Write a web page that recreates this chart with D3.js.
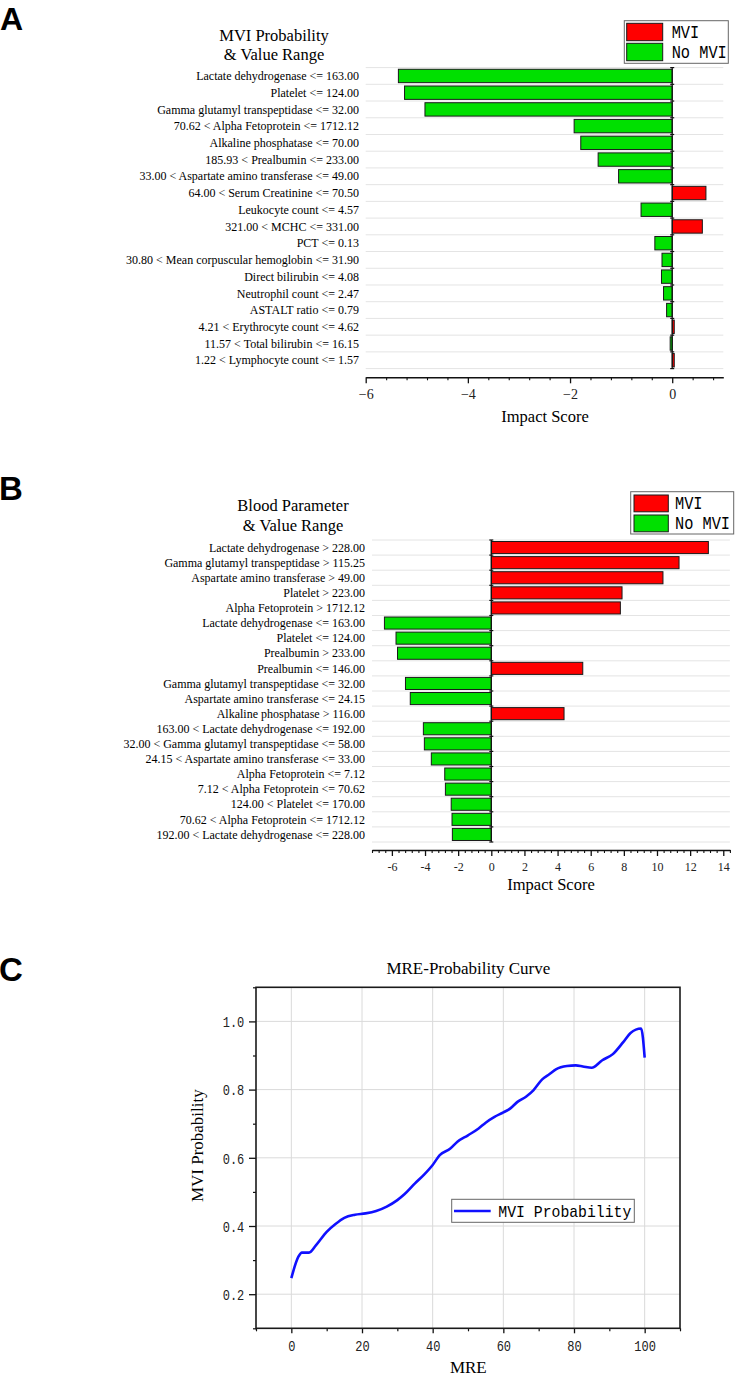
<!DOCTYPE html>
<html><head><meta charset="utf-8">
<script src="https://cdn.jsdelivr.net/npm/d3@7"></script>
<style>body{margin:0;background:#fff} svg{display:block}</style>
</head><body>
<script>
// ---------- DATA ----------
const labelsA = ["Lactate dehydrogenase <= 163.00","Platelet <= 124.00","Gamma glutamyl transpeptidase <= 32.00","70.62 < Alpha Fetoprotein <= 1712.12","Alkaline phosphatase <= 70.00","185.93 < Prealbumin <= 233.00","33.00 < Aspartate amino transferase <= 49.00","64.00 < Serum Creatinine <= 70.50","Leukocyte count <= 4.57","321.00 < MCHC <= 331.00","PCT <= 0.13","30.80 < Mean corpuscular hemoglobin <= 31.90","Direct bilirubin <= 4.08","Neutrophil count <= 2.47","ASTALT ratio <= 0.79","4.21 < Erythrocyte count <= 4.62","11.57 < Total bilirubin <= 16.15","1.22 < Lymphocyte count <= 1.57"];
const valuesA = [-5.36,-5.24,-4.84,-1.92,-1.79,-1.45,-1.05,0.66,-0.61,0.59,-0.34,-0.20,-0.21,-0.17,-0.11,0.04,-0.04,0.04];

const labelsB = ["Lactate dehydrogenase > 228.00","Gamma glutamyl transpeptidase > 115.25","Aspartate amino transferase > 49.00","Platelet > 223.00","Alpha Fetoprotein > 1712.12","Lactate dehydrogenase <= 163.00","Platelet <= 124.00","Prealbumin > 233.00","Prealbumin <= 146.00","Gamma glutamyl transpeptidase <= 32.00","Aspartate amino transferase <= 24.15","Alkaline phosphatase > 116.00","163.00 < Lactate dehydrogenase <= 192.00","32.00 < Gamma glutamyl transpeptidase <= 58.00","24.15 < Aspartate amino transferase <= 33.00","Alpha Fetoprotein <= 7.12","7.12 < Alpha Fetoprotein <= 70.62","124.00 < Platelet <= 170.00","70.62 < Alpha Fetoprotein <= 1712.12","192.00 < Lactate dehydrogenase <= 228.00"];
const valuesB = [13.1,11.33,10.36,7.89,7.79,-6.45,-5.75,-5.66,5.52,-5.18,-4.89,4.39,-4.10,-4.04,-3.62,-2.81,-2.77,-2.42,-2.37,-2.35];

const mre  = [0,2,3,5,7,10,12.5,15,18,21,24,27,30,32,35,37.5,40,42,45,47,50,53,55,57.5,60,62,64,66.5,68.5,71,73,75,78,80.5,82.5,85,88,91,94,96,99,100];
const prob = [0.247,0.31,0.322,0.322,0.344,0.383,0.406,0.424,0.433,0.437,0.444,0.457,0.476,0.493,0.525,0.55,0.579,0.608,0.627,0.647,0.666,0.686,0.703,0.72,0.733,0.745,0.764,0.78,0.798,0.83,0.845,0.86,0.869,0.871,0.868,0.864,0.886,0.904,0.94,0.966,0.979,0.894];

const legendBar = ["MVI","No MVI"];
const ticksA = [-6,-4,-2,0];
const ticksB = [-6,-4,-2,0,2,4,6,8,10,12,14];
const ticksCx = [0,20,40,60,80,100];
const ticksCy = [0.2,0.4,0.6,0.8,1.0];

// ---------- STYLE ----------
const SERIF = "'Liberation Serif','Times New Roman',serif";
const MONO = "'Liberation Mono','Courier New',monospace";
const SANS = "'Liberation Sans',Arial,sans-serif";
const RED = "#ff0000", GREEN = "#00e000", BLUE = "#1010ff";

const svg = d3.select("body").append("svg").attr("width",735).attr("height",1377);

function txt(g, x, y, s, o={}) {
  return g.append("text")
    .attr("transform", `translate(${x},${y}) scale(${o.sx||1},1)` + (o.rot?` rotate(${o.rot})`:""))
    .attr("font-family", o.family||SERIF).attr("font-size", o.size||12)
    .attr("font-weight", o.weight||"normal")
    .attr("text-anchor", o.anchor||"start").attr("fill","#000").text(s);
}

// panel letters
txt(svg, 0, 30, "A", {family:SANS, size:32, weight:"bold"});
txt(svg, -1, 500, "B", {family:SANS, size:33, weight:"bold"});
txt(svg, -1, 981, "C", {family:SANS, size:33, weight:"bold"});

function barPanel(cfg) {
  const g = svg.append("g");
  const x = d3.scaleLinear().domain(cfg.domain).range(cfg.xr);
  const y = d3.scaleBand().domain(cfg.labels).range(cfg.yr).paddingInner(0.2).paddingOuter(0.1);
  const step = y.step();
  const bounds = d3.range(cfg.labels.length+1).map(i => cfg.yr[0] + i*step);
  // grid
  g.selectAll(".grid").data(bounds).join("line")
    .attr("x1", cfg.xr[0]).attr("x2", cfg.xr[1]).attr("y1", d=>d).attr("y2", d=>d)
    .attr("stroke","#e4e4e4").attr("stroke-width",1);
  // bars
  g.selectAll(".bar").data(cfg.values).join("rect")
    .attr("x", d => x(Math.min(0,d))).attr("width", d => Math.abs(x(d)-x(0)))
    .attr("y", (d,i) => y(cfg.labels[i])).attr("height", y.bandwidth())
    .attr("fill", d => d>0?RED:GREEN).attr("stroke","#1a1a1a").attr("stroke-width",1);
  // zero line with band ticks
  g.append("line").attr("x1",x(0)).attr("x2",x(0)).attr("y1",cfg.yr[0]).attr("y2",cfg.yr[1])
    .attr("stroke","#111").attr("stroke-width",1.2);
  g.selectAll(".zt").data(bounds).join("line")
    .attr("x1",x(0)-2).attr("x2",x(0)+2).attr("y1",d=>d).attr("y2",d=>d)
    .attr("stroke","#111").attr("stroke-width",1.2);
  // labels
  cfg.labels.forEach(l => txt(g, cfg.labelX, y(l)+step*0.4+4.2, l, {size:12, anchor:"end"}));
  // axis
  const ax = g.append("g").attr("transform",`translate(0,${cfg.axisY})`)
    .call(d3.axisBottom(x).tickValues(cfg.ticks).tickSize(6).tickSizeOuter(0).tickPadding(cfg.pad).tickFormat(cfg.fmt));
  ax.select(".domain").attr("stroke","#111").attr("stroke-width",1.4);
  ax.selectAll(".tick line").attr("stroke","#111").attr("stroke-width",1.3);
  ax.selectAll("text").attr("font-family",SERIF).attr("font-size",cfg.tickSize).attr("fill","#222");
  const minors = d3.range(cfg.domain[0], cfg.domain[1]+1e-6, 0.4)
    .filter(v => !cfg.ticks.some(t => Math.abs(t-v)<1e-6));
  const mx = g.append("g").attr("transform",`translate(0,${cfg.axisY})`)
    .call(d3.axisBottom(x).tickValues(minors).tickSize(3).tickFormat(""));
  mx.select(".domain").remove();
  mx.selectAll(".tick line").attr("stroke","#111").attr("stroke-width",1.1);
  txt(g, cfg.xl[0], cfg.xl[1], "Impact Score", {size:16.5, anchor:"middle"});
  // title
  txt(g, cfg.title[0], cfg.title[2], cfg.titleText[0], {size:16.5, anchor:"middle"});
  txt(g, cfg.title[0], cfg.title[3], cfg.titleText[1], {size:16.5, anchor:"middle"});
  // legend
  const L = cfg.legend;
  g.append("rect").attr("x",L.x).attr("y",L.y).attr("width",L.w).attr("height",L.h)
    .attr("fill","#fff").attr("stroke","#666").attr("stroke-width",1);
  legendBar.forEach((s,i) => {
    g.append("rect").attr("x",L.sx).attr("y",L.sy[i]).attr("width",L.sw).attr("height",L.sh)
      .attr("fill", i===0?RED:GREEN).attr("stroke","#1a1a1a").attr("stroke-width",1);
    txt(g, L.tx, L.sy[i]+L.sh-2.5, s, {family:MONO, size:18, sx:0.85});
  });
}

barPanel({
  labels: labelsA, values: valuesA, domain: [-6,1], xr: [365.7,723.3], yr: [67.6,368.6],
  labelX: 359, axisY: 377.3, ticks: ticksA, fmt: d3.format("d"), pad: 6, tickSize: 14,
  xl: [545, 422], title: [274, 0, 40.5, 60], titleText: ["MVI Probability","& Value Range"],
  legend: {x:624.3, y:20.7, w:104, h:42.6, sx:626.7, sy:[23.3,43.3], sw:36, sh:17.4, tx:671.7}
});
barPanel({
  labels: labelsB, values: valuesB, domain: [-7.2,14.4], xr: [372,729.9], yr: [540,842],
  labelX: 365, axisY: 850, ticks: ticksB, fmt: d => String(d), pad: 6, tickSize: 12,
  xl: [551, 890], title: [293, 0, 510.5, 530.5], titleText: ["Blood Parameter","& Value Range"],
  legend: {x:630.7, y:491.7, w:103, h:42.3, sx:634, sy:[495,515], sw:34.3, sh:16.8, tx:675}
});

// ---------- PANEL C ----------
const gC = svg.append("g");
const L = 256, R = 680, T = 987.3, B = 1328.3;
const xC = d3.scaleLinear().domain([-10,110]).range([L,R]);
const yC = d3.scaleLinear().domain([0.1,1.1]).range([B,T]);
gC.selectAll(".vg").data(ticksCx).join("line")
  .attr("x1",d=>xC(d)).attr("x2",d=>xC(d)).attr("y1",T).attr("y2",B).attr("stroke","#dadada").attr("stroke-width",1);
gC.selectAll(".hg").data(ticksCy).join("line")
  .attr("x1",L).attr("x2",R).attr("y1",d=>yC(d)).attr("y2",d=>yC(d)).attr("stroke","#dadada").attr("stroke-width",1);
// axes
const axX = gC.append("g").attr("transform",`translate(0,${B})`)
  .call(d3.axisBottom(xC).tickValues(ticksCx).tickSize(5).tickSizeOuter(0).tickPadding(7).tickFormat(d3.format("d")));
axX.select(".domain").remove();
axX.selectAll(".tick line").attr("stroke","#111").attr("stroke-width",1.3);
axX.selectAll("text").attr("font-family",MONO).attr("font-size",15).attr("fill","#222")
  .attr("transform","scale(0.8,1)");
const axXm = gC.append("g").attr("transform",`translate(0,${B})`)
  .call(d3.axisBottom(xC).tickValues([-10,10,30,50,70,90,110]).tickSize(3).tickFormat(""));
axXm.select(".domain").remove();
axXm.selectAll(".tick line").attr("stroke","#111").attr("stroke-width",1.2);
const axY = gC.append("g").attr("transform",`translate(${L},0)`)
  .call(d3.axisLeft(yC).tickValues(ticksCy).tickSize(7).tickSizeOuter(0).tickPadding(11.7).tickFormat(d3.format(".1f")));
axY.select(".domain").remove();
axY.selectAll(".tick line").attr("stroke","#111").attr("stroke-width",1.3);
axY.selectAll("text").attr("font-family",MONO).attr("font-size",15).attr("fill","#222")
  .attr("x",-11.7).attr("dy","0.35em");
axY.selectAll(".tick text").each(function(){ d3.select(this).attr("transform","scale(0.8,1)").attr("x",-11.7/0.8); });
const axYm = gC.append("g").attr("transform",`translate(${L},0)`)
  .call(d3.axisLeft(yC).tickValues([0.1,0.3,0.5,0.7,0.9,1.1]).tickSize(3).tickFormat(""));
axYm.select(".domain").remove();
axYm.selectAll(".tick line").attr("stroke","#111").attr("stroke-width",1.2);
// frame
gC.append("rect").attr("x",L).attr("y",T).attr("width",R-L).attr("height",B-T)
  .attr("fill","none").attr("stroke","#1a1a1a").attr("stroke-width",1.6);
// curve
const pts = mre.map((m,i)=>[m,prob[i]]);
gC.append("path").datum(pts)
  .attr("d", d3.line().x(d=>xC(d[0])).y(d=>yC(d[1])).curve(d3.curveMonotoneX))
  .attr("fill","none").attr("stroke",BLUE).attr("stroke-width",2.6).attr("stroke-linejoin","round");
// legend
gC.append("rect").attr("x",451.7).attr("y",1199.3).attr("width",182.6).attr("height",23)
  .attr("fill","#fff").attr("stroke","#666").attr("stroke-width",1);
gC.append("line").attr("x1",454).attr("x2",490.7).attr("y1",1211).attr("y2",1211)
  .attr("stroke",BLUE).attr("stroke-width",2.6);
txt(gC, 498.3, 1216.5, "MVI Probability", {family:MONO, size:17, sx:0.87});
// titles
txt(gC, 468.3, 974, "MRE-Probability Curve", {size:17, anchor:"middle"});
txt(gC, 468.3, 1372.5, "MRE", {size:17, anchor:"middle"});
txt(gC, 203, 1145.7, "MVI Probability", {size:17, anchor:"middle", rot:-90});
</script>
</body></html>
